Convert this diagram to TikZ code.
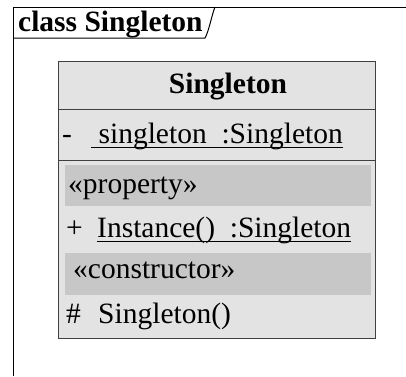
\documentclass[tikz,border=0pt]{standalone}
\usepackage{fontspec}
\setmainfont{Liberation Serif}
\begin{document}
\begin{tikzpicture}[x=1pt,y=-1pt,
  txt/.style={anchor=base west,inner sep=0pt,font=\fontsize{29.5}{32}\selectfont},
  frameline/.style={draw=black,line width=1pt},
  boxline/.style={draw=black!75,line width=1pt},
  uline/.style={draw=black,line width=1pt}]
\useasboundingbox (0,0) rectangle (406,376);
% frame
\draw[frameline] (13,376) -- (13,7) -- (406,7);
\draw[frameline] (13,38) -- (205,38) .. controls (209,31) and (212,14) .. (215,7);
\node[txt,font=\fontsize{29.5}{32}\selectfont\bfseries] (title) at (18,31) {class Singleton};
% class box
\fill[black!11] (58,61) rectangle (375,338);
\fill[black!22] (65,165) rectangle (371,206);
\fill[black!22] (65,253) rectangle (371,295);
\draw[boxline] (58,61) rectangle (375,338);
\draw[boxline] (58,109) -- (375,109);
\draw[boxline] (58,160) -- (375,160);
\node[txt,font=\fontsize{29.5}{32}\selectfont\bfseries,anchor=base] (cname) at (228,93) {Singleton};
\node[txt] (vis1) at (62,143) {-};
\node[txt] (attr) at (91,143) {\ singleton\ \ :Singleton};
\draw[uline] ([yshift=-4pt]attr.base west) -- ([yshift=-4pt]attr.base east);
\node[txt] (st1) at (68,193) {«property»};
\node[txt] (vis2) at (66,237) {+};
\node[txt] (op1) at (97,237) {Instance()\ \ :Singleton};
\draw[uline] ([yshift=-4pt]op1.base west) -- ([yshift=-4pt]op1.base east);
\node[txt] (st2) at (73,278) {«constructor»};
\node[txt] (vis3) at (66,323) {\#};
\node[txt] (op2) at (98,323) {Singleton()};
\end{tikzpicture}
\end{document}
